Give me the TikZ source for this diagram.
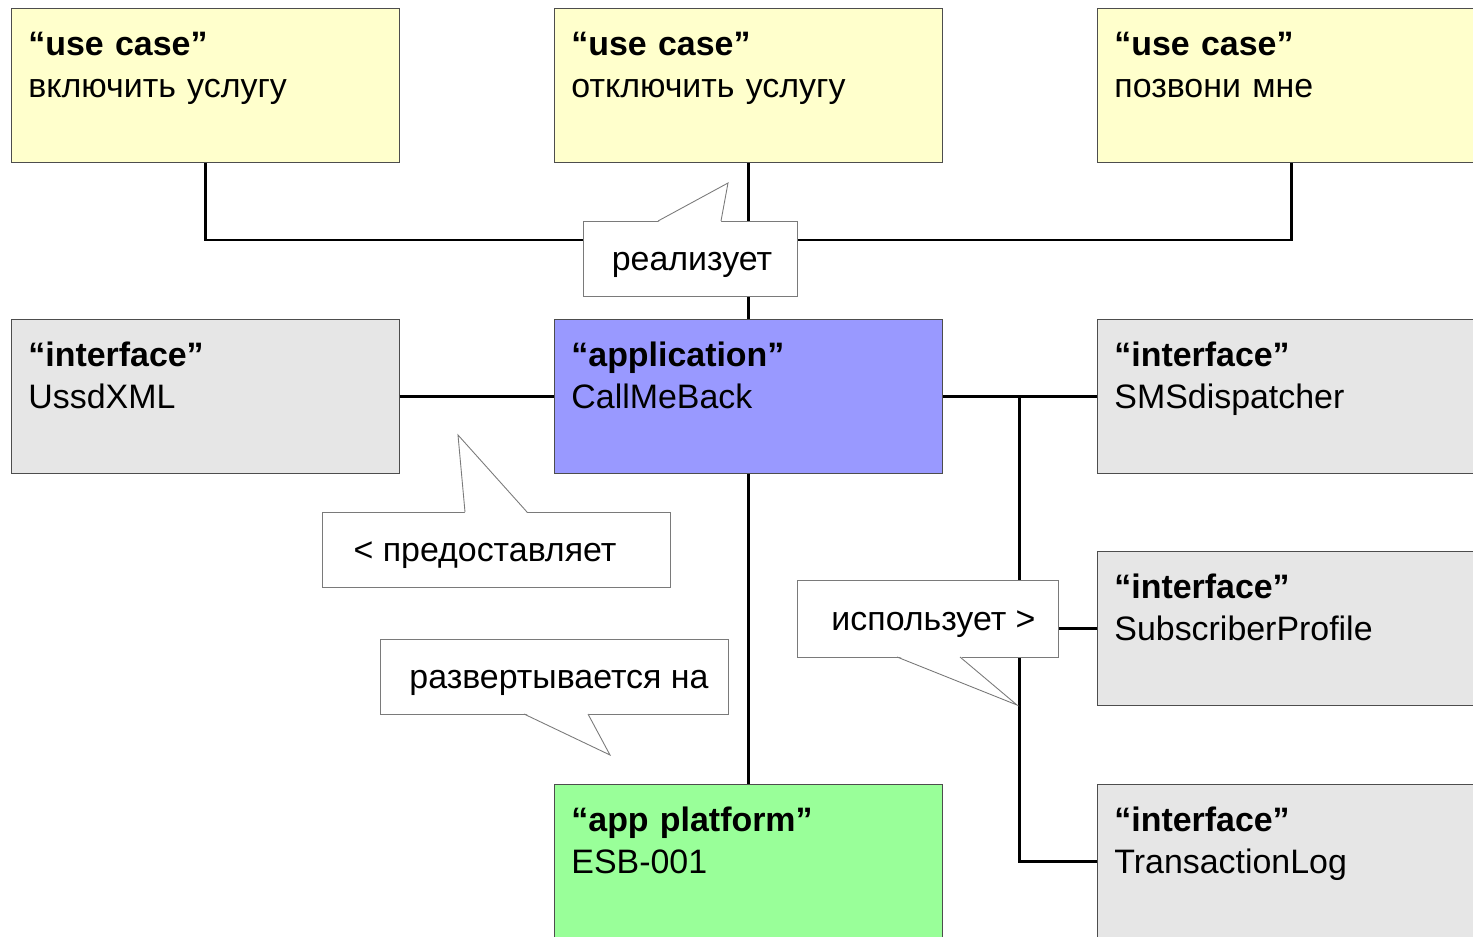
\documentclass[tikz,border=0pt]{standalone}
\usepackage{fontspec}
\setmainfont{Liberation Sans}
\usepackage{tikz}
\usetikzlibrary{positioning}
\definecolor{ucfill}{HTML}{FFFFCC}
\definecolor{iffill}{HTML}{E6E6E6}
\definecolor{appfill}{HTML}{9999FF}
\definecolor{platfill}{HTML}{99FF99}
\definecolor{boxline}{HTML}{4D4D4D}
\definecolor{noteline}{HTML}{7A7A7A}
\newcommand{\elemtxt}[2]{{\bfseries “#1”}\\#2}
\tikzset{
  elem/.style={draw=boxline, line width=0.5pt, anchor=north west,
    text width=7.08cm, inner xsep=0.34cm, inner ysep=0pt, align=left,
    text height=0.94cm, text depth=2.14cm,
    font=\fontsize{19.3}{23.8}\selectfont},
  note/.style={draw=noteline, line width=0.5pt, fill=white, inner sep=0pt,
    text height=0.6cm, text depth=0.14cm, minimum height=1.5cm,
    font=\fontsize{19.3}{23.8}\selectfont},
  conn/.style={line width=1.7pt},
  tail/.style={draw=noteline, line width=0.5pt}
}

\begin{document}
\begin{tikzpicture}[x=0.02cm, y=-0.02cm]
  \clip (0,0) rectangle (1473,936);

  % use cases
  \node[elem, fill=ucfill] (ucOn) at (11,8) {\elemtxt{use case}{включить услугу}};
  \node[elem, fill=ucfill] (ucOff) at (554,8) {\elemtxt{use case}{отключить услугу}};
  \node[elem, fill=ucfill] (ucCall) at (1097,8) {\elemtxt{use case}{позвони мне}};

  % application and interfaces
  \node[elem, fill=iffill] (ussd) at (11,319) {\elemtxt{interface}{UssdXML}};
  \node[elem, fill=appfill] (app) at (554,319) {\elemtxt{application}{CallMeBack}};
  \node[elem, fill=iffill] (sms) at (1097,319) {\elemtxt{interface}{SMSdispatcher}};
  \node[elem, fill=iffill] (profile) at (1097,551) {\elemtxt{interface}{SubscriberProfile}};
  \node[elem, fill=iffill] (tlog) at (1097,784) {\elemtxt{interface}{TransactionLog}};
  \node[elem, fill=platfill] (esb) at (554,784) {\elemtxt{app platform}{ESB-001}};

  \coordinate (bus) at (748,240);
  \coordinate (split) at (1019,395);

  \draw[conn] (ucOn.south) |- (bus) -| (ucCall.south);
  \draw[conn] (ucOff.south) -- (app.north);
  \draw[conn] (ussd.east) -- (app.west);
  \draw[conn] (app.east) -- (sms.west);
  \draw[conn] (split) |- (tlog.west);
  \draw[conn] (split |- profile.west) -- (profile.west);
  \draw[conn] (app.south) -- (esb.north);

  % callouts
  \node[note, minimum width=4.28cm] (realizes) at (690,258.5) {\hspace*{0.08cm}реализует};
  \fill[white] (658,222) -- (728,183) -- (721,222) -- cycle;
  \draw[tail] (658,221) -- (728,183) -- (721,221);

  \node[note, minimum width=6.96cm] (provides) at (496,549.5) {\hspace*{-0.44cm}< предоставляет};
  \fill[white] (465,513) -- (458,435) -- (527,513) -- cycle;
  \draw[tail] (465,512) -- (458,435) -- (527,512);

  \node[note, minimum width=6.96cm] (deploys) at (554,676.5) {\hspace*{0.2cm}развертывается на};
  \fill[white] (524,713) -- (610,755) -- (588,713) -- cycle;
  \draw[tail] (524,714) -- (610,755) -- (588,714);

  \node[note, minimum width=5.22cm, minimum height=1.54cm] (uses) at (927.5,618.5) {\hspace*{0.24cm}использует >};
  \fill[white] (897,656) -- (1017,705) -- (960,656) -- cycle;
  \draw[tail] (897,657) -- (1017,705) -- (960,657);
\end{tikzpicture}
\end{document}
